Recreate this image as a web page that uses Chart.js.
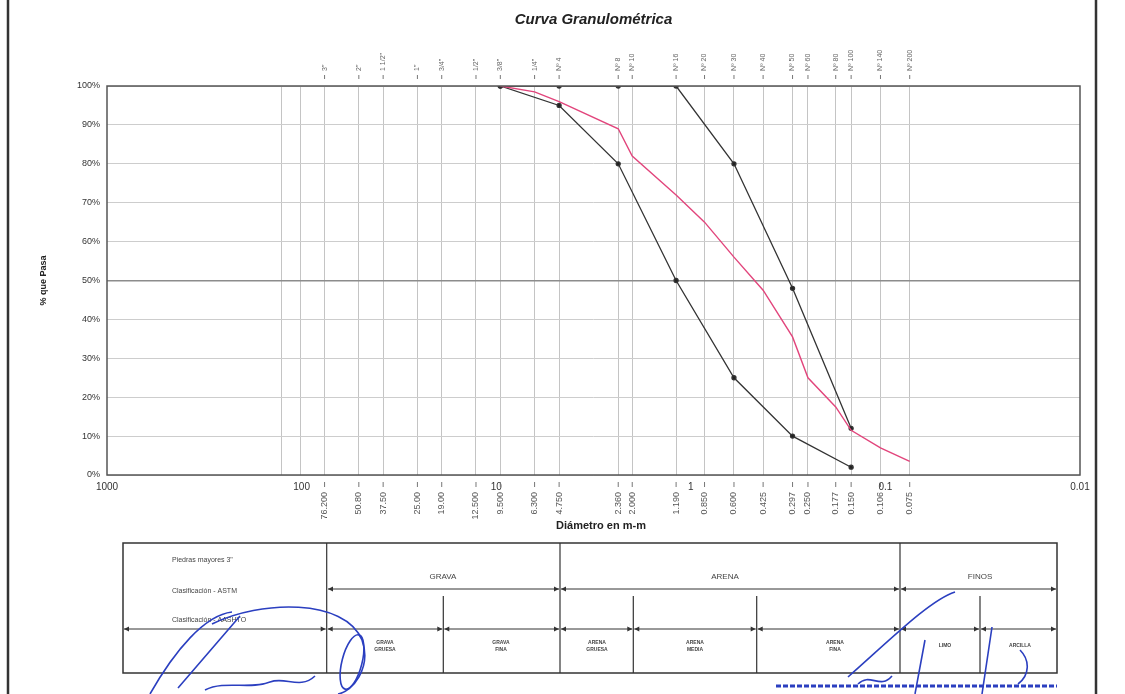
<!DOCTYPE html>
<html>
<head>
<meta charset="utf-8">
<title>Curva Granulométrica</title>
<script src="https://cdn.jsdelivr.net/npm/chart.js@4.4.1/dist/chart.umd.min.js"></script>
<style>
  html, body { margin: 0; padding: 0; background: #fff; }
  #wrap { width: 1125px; height: 694px; }
</style>
</head>
<body>
<div id="wrap"><canvas id="granulo" width="1125" height="694"></canvas></div>
<script>
// tamices (mm), nombres y aberturas
let sieveSizes = [76.2, 50.8, 38.1, 25.4, 19.05, 12.7, 9.525, 6.35, 4.75, 2.36, 2.0, 1.19, 0.85, 0.6, 0.425, 0.3, 0.25, 0.18, 0.15, 0.106, 0.075]
let sieveNames = ['3"', '2"', '1 1/2"', '1"', '3/4"', '1/2"', '3/8"', '1/4"', 'Nº 4', 'Nº 8', 'Nº 10', 'Nº 16', 'Nº 20', 'Nº 30', 'Nº 40', 'Nº 50', 'Nº 60', 'Nº 80', 'Nº 100', 'Nº 140', 'Nº 200']
let sieveOpenings = ['76.200', '50.80', '37.50', '25.00', '19.00', '12.500', '9.500', '6.300', '4.750', '2.360', '2.000', '1.190', '0.850', '0.600', '0.425', '0.297', '0.250', '0.177', '0.150', '0.106', '0.075']
let extraGrid = [127, 101.6]
let decadeTicks = [1000, 100, 10, 1, 0.1, 0.01]
let yTicks = [0, 10, 20, 30, 40, 50, 60, 70, 80, 90, 100]

// husos (limites) y muestra
let limitSizes = [9.525, 4.75, 2.36, 1.19, 0.6, 0.3, 0.15]
let lowerLimit = [100, 95, 80, 50, 25, 10, 2]
let upperLimit = [100, 100, 100, 100, 80, 48, 12]
let sampleSizes = [9.525, 6.35, 4.75, 2.36, 2.0, 1.19, 0.85, 0.6, 0.425, 0.3, 0.25, 0.18, 0.15, 0.106, 0.075]
let samplePassing = [100, 98.5, 96, 89, 82, 72, 65, 56, 47.5, 35.5, 25, 17.5, 11.5, 7, 3.5]

let FONT = "'Liberation Sans', Arial, sans-serif"
Chart.defaults.font.family = FONT

let toPoints = (xs, ys) => xs.map((x, i) => ({ x: x, y: ys[i] }))
let gridValues = [...sieveSizes, ...extraGrid]

let arrowSeg = (c, x1, x2, y) => {
    c.beginPath()
    c.moveTo(x1, y)
    c.lineTo(x2, y)
    c.stroke()
    c.beginPath()
    c.moveTo(x1, y); c.lineTo(x1 + 5, y - 2.5); c.lineTo(x1 + 5, y + 2.5); c.closePath()
    c.moveTo(x2, y); c.lineTo(x2 - 5, y - 2.5); c.lineTo(x2 - 5, y + 2.5); c.closePath()
    c.fill()
}

let sheetPlugin = {
    id: 'sheet',
    beforeDraw(chart) {
        let c = chart.ctx
        c.save()
        c.fillStyle = '#fff'
        c.fillRect(0, 0, chart.width, chart.height)
        c.restore()
    },
    afterDraw(chart) {
        let c = chart.ctx
        let a = chart.chartArea
        let xs = chart.scales.x
        c.save()

        // marco del grafico
        c.strokeStyle = '#555'
        c.lineWidth = 1.5
        c.strokeRect(a.left, a.top, a.right - a.left, a.bottom - a.top)

        // titulo
        c.fillStyle = '#222'
        c.font = 'italic bold 15px ' + FONT
        c.textAlign = 'center'
        c.textBaseline = 'middle'
        c.fillText('Curva Granulométrica', (a.left + a.right) / 2, 20)

        // tamices arriba / aberturas abajo
        sieveSizes.forEach((s, i) => {
            let x = xs.getPixelForValue(s)
            c.strokeStyle = '#777'
            c.lineWidth = 1
            c.beginPath(); c.moveTo(x, 75); c.lineTo(x, 79); c.stroke()
            c.beginPath(); c.moveTo(x, 482); c.lineTo(x, 487); c.stroke()
            c.fillStyle = '#666'
            c.save()
            c.translate(x, 71)
            c.rotate(-Math.PI / 2)
            c.font = '7px ' + FONT
            c.textAlign = 'left'
            c.fillText(sieveNames[i], 0, 0)
            c.restore()
            c.save()
            c.translate(x, 492)
            c.rotate(-Math.PI / 2)
            c.font = '9px ' + FONT
            c.fillStyle = '#555'
            c.textAlign = 'right'
            c.fillText(sieveOpenings[i], 0, 0)
            c.restore()
        })

        c.fillStyle = '#222'
        c.font = 'bold 11px ' + FONT
        c.textAlign = 'center'
        c.fillText('Diámetro en m-m', 601, 526)

        // tabla de clasificacion
        let T = { l: 123, r: 1057, t: 543, b: 673 }
        c.strokeStyle = '#333'
        c.fillStyle = '#333'
        c.lineWidth = 1.5
        c.strokeRect(T.l, T.t, T.r - T.l, T.b - T.t)
        c.lineWidth = 1.2
        ;[326.7, 560, 900].forEach(x => { c.beginPath(); c.moveTo(x, T.t); c.lineTo(x, T.b); c.stroke() })
        ;[443.3, 633.3, 756.7, 980].forEach(x => { c.beginPath(); c.moveTo(x, 596); c.lineTo(x, T.b); c.stroke() })
        c.lineWidth = 1
        arrowSeg(c, 328, 559, 589)
        arrowSeg(c, 561, 899, 589)
        arrowSeg(c, 901, 1056, 589)
        ;[[124, 325.7], [327.7, 442.3], [444.3, 559], [561, 632.3], [634.3, 755.7], [757.7, 899], [901, 979], [981, 1056]]
            .forEach(s => arrowSeg(c, s[0], s[1], 629))

        c.fillStyle = '#444'
        c.font = '7px ' + FONT
        c.textAlign = 'left'
        c.fillText('Piedras mayores 3"', 172, 560)
        c.fillText('Clasificación - ASTM', 172, 591)
        c.fillText('Clasificación - AASHTO', 172, 620)
        c.textAlign = 'center'
        c.font = '8px ' + FONT
        c.fillText('GRAVA', 443, 577)
        c.fillText('ARENA', 725, 577)
        c.fillText('FINOS', 980, 577)
        c.font = 'bold 5px ' + FONT
        let small = [[385, 'GRAVA', 'GRUESA'], [501, 'GRAVA', 'FINA'], [597, 'ARENA', 'GRUESA'], [695, 'ARENA', 'MEDIA'], [835, 'ARENA', 'FINA']]
        small.forEach(s => { c.fillText(s[1], s[0], 643); c.fillText(s[2], s[0], 650) })
        c.fillText('LIMO', 945, 646)
        c.fillText('ARCILLA', 1020, 646)

        // bordes de la hoja
        c.strokeStyle = '#333'
        c.lineWidth = 2.5
        c.beginPath(); c.moveTo(8, 0); c.lineTo(8, 694); c.stroke()
        c.beginPath(); c.moveTo(1096, 0); c.lineTo(1096, 694); c.stroke()

        // firmas (trazos aproximados)
        c.strokeStyle = '#2b3fc0'
        c.lineWidth = 1.6
        c.beginPath()
        c.moveTo(150, 694); c.bezierCurveTo(175, 650, 205, 615, 232, 612)
        c.moveTo(212, 624); c.bezierCurveTo(260, 600, 345, 598, 362, 640)
        c.bezierCurveTo(372, 668, 352, 692, 338, 694)
        c.moveTo(240, 616); c.lineTo(178, 688)
        c.moveTo(205, 690); c.bezierCurveTo(225, 680, 250, 690, 270, 682)
        c.bezierCurveTo(285, 676, 300, 690, 315, 676)
        c.stroke()
        c.beginPath(); c.ellipse(352, 662, 10, 28, 0.25, 0, Math.PI * 2); c.stroke()
        c.beginPath()
        c.moveTo(848, 677); c.bezierCurveTo(890, 640, 930, 600, 955, 592)
        c.moveTo(858, 684); c.bezierCurveTo(870, 672, 880, 690, 892, 676)
        c.moveTo(915, 694); c.lineTo(925, 640)
        c.moveTo(992, 627); c.lineTo(982, 694)
        c.moveTo(1020, 650); c.bezierCurveTo(1030, 660, 1030, 675, 1018, 684)
        c.stroke()
        c.lineWidth = 3
        c.setLineDash([5, 2])
        c.beginPath(); c.moveTo(776, 686); c.lineTo(1057, 686); c.stroke()
        c.restore()
    }
}

let chart = new Chart(document.getElementById('granulo'), {
    type: 'scatter',
    data: {
        datasets: [{
            label: 'Muestra',
            data: toPoints(sampleSizes, samplePassing),
            showLine: true,
            borderColor: '#e2457c',
            borderWidth: 1.4,
            pointRadius: 0
        }, {
            label: 'Límite inferior',
            data: toPoints(limitSizes, lowerLimit),
            showLine: true,
            borderColor: '#333',
            backgroundColor: '#222',
            borderWidth: 1.3,
            pointRadius: 2
        }, {
            label: 'Límite superior',
            data: toPoints(limitSizes, upperLimit),
            showLine: true,
            borderColor: '#333',
            backgroundColor: '#222',
            borderWidth: 1.3,
            pointRadius: 2
        }]
    },
    options: {
        responsive: false,
        animation: false,
        layout: { padding: { left: 34, top: 86, right: 45, bottom: 195 } },
        plugins: { legend: { display: false }, tooltip: { enabled: false } },
        scales: {
            x: {
                type: 'logarithmic',
                reverse: true,
                min: 0.01,
                max: 1000,
                afterBuildTicks: s => { s.ticks = [...decadeTicks, ...gridValues].sort((p, q) => p - q).map(v => ({ value: v })) },
                afterFit: s => { s.height = 24 },
                border: { display: false },
                grid: {
                    drawTicks: false,
                    color: ctx => gridValues.includes(ctx.tick && ctx.tick.value) ? '#c4c4c4' : 'rgba(0,0,0,0)'
                },
                ticks: {
                    autoSkip: false,
                    maxRotation: 0,
                    padding: 6,
                    color: '#333',
                    font: { size: 10 },
                    callback: v => decadeTicks.includes(v) ? String(v) : ''
                }
            },
            y: {
                min: 0,
                max: 100,
                afterBuildTicks: s => { s.ticks = yTicks.map(v => ({ value: v })) },
                afterFit: s => { s.width = 73 },
                border: { display: false },
                grid: {
                    drawTicks: false,
                    color: ctx => ctx.tick && ctx.tick.value == 50 ? '#8c8c8c' : '#cdcdcd',
                    lineWidth: ctx => ctx.tick && ctx.tick.value == 50 ? 1.6 : 1
                },
                ticks: {
                    padding: 7,
                    color: '#333',
                    font: { size: 9 },
                    callback: v => v + '%'
                },
                title: {
                    display: true,
                    text: '% que Pasa',
                    color: '#222',
                    font: { size: 9, weight: 'bold' }
                }
            }
        }
    },
    plugins: [sheetPlugin]
})
</script>
</body>
</html>
